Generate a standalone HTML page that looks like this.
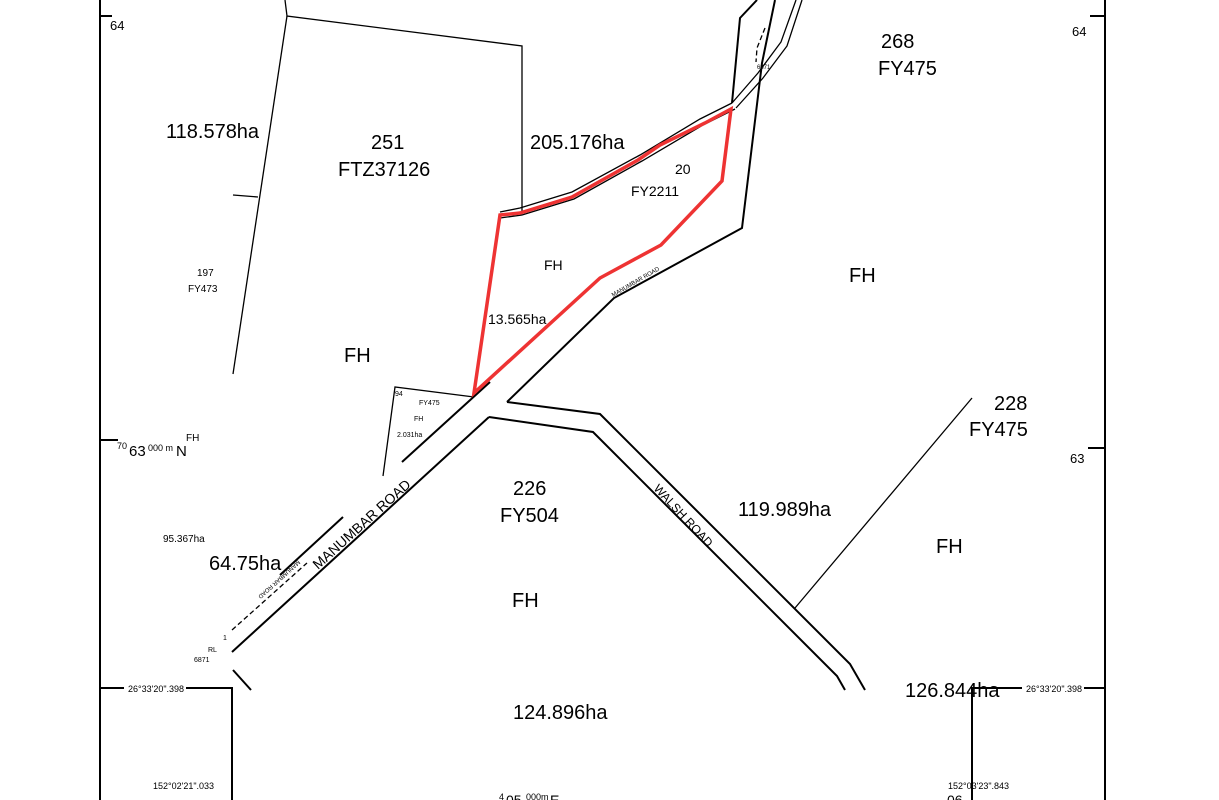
<!DOCTYPE html>
<html><head><meta charset="utf-8"><style>
html,body{margin:0;padding:0;background:#fff;}
svg{display:block;font-family:"Liberation Sans",sans-serif;}
</style></head><body>
<svg width="1219" height="800" viewBox="0 0 1219 800" xmlns="http://www.w3.org/2000/svg">
<rect width="1219" height="800" fill="#fff"/>
<g stroke="#000" stroke-width="2" fill="none">
<line x1="100" y1="0" x2="100" y2="800"/>
<line x1="1105" y1="0" x2="1105" y2="800"/>
<line x1="100" y1="16" x2="112" y2="16"/>
<line x1="1090" y1="16" x2="1105" y2="16"/>
<line x1="100" y1="440" x2="118" y2="440"/>
<line x1="1088" y1="448" x2="1105" y2="448"/>
<polyline points="100,688 232,688 232,800"/>
<polyline points="1105,688 972,688 972,800"/>
<line x1="232" y1="652" x2="489" y2="417"/>
<polyline points="489,417 593,432 837,676 845,690"/>
<polyline points="507,402 600,414 850,664 865,690"/>
<line x1="402" y1="462" x2="490" y2="382"/>
<polyline points="507,402 614,298 742,228 762,63 775,0"/>
<polyline points="757,0 740,18 732,103"/>
<line x1="233" y1="670" x2="251" y2="690"/>
<line x1="280" y1="575" x2="343" y2="517"/>
</g>
<g stroke="#000" stroke-width="1.3" fill="none">
<polyline points="285,0 287,16 522,46 522,213"/>
<line x1="287" y1="16" x2="233" y2="374"/>
<line x1="233" y1="195" x2="258" y2="197"/>
<polyline points="383,476 395,387 474,397"/>
<line x1="795" y1="608" x2="972" y2="398"/>
<polyline points="732,103 700,119 640,155 572,192 520,208 500,212"/>
<polyline points="735,109 703,125 642,161 574,199 522,215 500,218"/>
<polyline points="732,103 758,73 781,42 796,0"/>
<polyline points="736,108 763,78 787,46 802,0"/>
<polyline points="765,28 757,48 756,62" stroke-dasharray="5,3"/>
<line x1="232" y1="630" x2="307" y2="563" stroke-dasharray="5,3"/>
</g>
<polygon points="500,215 520,213 572,197 638,160 660,145 705,123 731,109 722,181 661,245 600,278 474,393" fill="none" stroke="#ee3333" stroke-width="3.5"/>
<g fill="#fff">
<rect x="124" y="683" width="62" height="11"/>
<rect x="1022" y="683" width="62" height="11"/>
</g>
<g fill="#000">
<text x="881" y="48" font-size="20">268</text>
<text x="878" y="75" font-size="20">FY475</text>
<text x="1072" y="36" font-size="13">64</text>
<text x="110" y="30" font-size="13">64</text>
<text x="166" y="138" font-size="20">118.578ha</text>
<text x="371" y="149" font-size="20">251</text>
<text x="338" y="176" font-size="20">FTZ37126</text>
<text x="530" y="149" font-size="20">205.176ha</text>
<text x="675" y="174" font-size="14">20</text>
<text x="631" y="196" font-size="14">FY2211</text>
<text x="197" y="276" font-size="10">197</text>
<text x="188" y="292" font-size="10">FY473</text>
<text x="544" y="270" font-size="14">FH</text>
<text x="849" y="282" font-size="20">FH</text>
<text x="488" y="324" font-size="14">13.565ha</text>
<text x="344" y="362" font-size="20">FH</text>
<text x="994" y="410" font-size="20">228</text>
<text x="969" y="436" font-size="20">FY475</text>
<text x="395" y="396" font-size="7">94</text>
<text x="419" y="405" font-size="7">FY475</text>
<text x="414" y="421" font-size="7">FH</text>
<text x="397" y="437" font-size="7">2.031ha</text>
<text x="117" y="449" font-size="9">70</text>
<text x="129" y="456" font-size="15">63</text>
<text x="148" y="451" font-size="9">000 m</text>
<text x="176" y="456" font-size="15">N</text>
<text x="186" y="441" font-size="10">FH</text>
<text x="1070" y="463" font-size="13">63</text>
<text x="513" y="495" font-size="20">226</text>
<text x="500" y="522" font-size="20">FY504</text>
<text x="738" y="516" font-size="20">119.989ha</text>
<text x="163" y="542" font-size="10">95.367ha</text>
<text x="936" y="553" font-size="20">FH</text>
<text x="209" y="570" font-size="20">64.75ha</text>
<text x="512" y="607" font-size="20">FH</text>
<text x="208" y="652" font-size="7">RL</text>
<text x="194" y="662" font-size="7">6871</text>
<text x="223" y="640" font-size="7">1</text>
<text x="905" y="697" font-size="20">126.844ha</text>
<text x="128" y="692" font-size="9">26°33'20".398</text>
<text x="1026" y="692" font-size="9">26°33'20".398</text>
<text x="513" y="719" font-size="20">124.896ha</text>
<text x="153" y="789" font-size="9">152°02'21".033</text>
<text x="948" y="789" font-size="9">152°03'23".843</text>
<text x="499" y="800" font-size="9">4</text>
<text x="506" y="805" font-size="14">05</text>
<text x="526" y="800" font-size="9">000m</text>
<text x="550" y="805" font-size="14">E</text>
<text x="947" y="805" font-size="14">06</text>
<text x="757" y="69" font-size="6">6871</text>
<text transform="translate(318,570) rotate(-42)" font-size="14">MANUMBAR ROAD</text>
<text transform="translate(613,297) rotate(-30)" font-size="6">MANUMBAR ROAD</text>
<text transform="translate(298,560) rotate(138)" font-size="6">MANUMBAR ROAD</text>
<text transform="translate(653,489) rotate(47)" font-size="12">WALSH ROAD</text>
</g>
</svg>
</body></html>
